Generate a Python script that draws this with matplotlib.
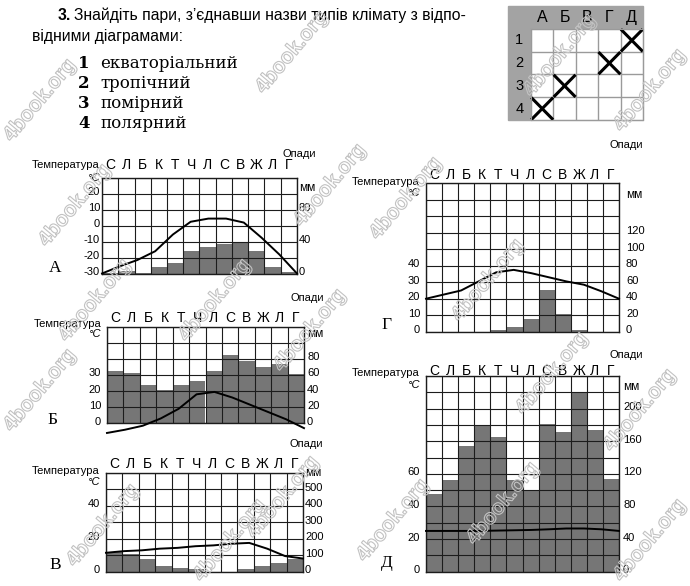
import numpy as np
import matplotlib
matplotlib.use('Agg')
import matplotlib.pyplot as plt
import matplotlib.patheffects as pe
from matplotlib.patches import Rectangle
from matplotlib.transforms import ScaledTranslation

plt.rcParams['font.family'] = ['Liberation Sans', 'DejaVu Sans']

# ── Data ──────────────────────────────────────────────────────────────────────
months = ['С', 'Л', 'Б', 'К', 'Т', 'Ч', 'Л', 'С', 'В', 'Ж', 'Л', 'Г']

temp_a = [-30, -25.5, -21.5, -16, -5.5, 2.5, 4.5, 4.5, 2, -7.5, -18, -30]
rain_a = [1, 3, 1, 8, 13, 28, 33, 37, 40, 28, 8, 2]

temp_b = [-6, -4, -1.5, 3, 9, 18, 19.5, 16, 11.5, 7, 2.5, -3]
rain_b = [65, 63, 48, 41, 48, 52, 65, 85, 77, 70, 74, 61]

temp_v = [11.5, 12.5, 13, 14, 14.5, 15.5, 16, 17, 17.5, 14, 9.5, 8]
rain_v = [120, 110, 75, 35, 25, 15, 0, 0, 15, 35, 55, 80]

temp_g = [20, 22.5, 25, 30.5, 36, 37.5, 35.5, 33, 30.5, 28.5, 24.5, 20]
rain_g = [0, 0, 0, 0, 2, 6, 16, 50, 22, 2, 0, 0]

temp_d = [25, 25, 25, 25, 25.2, 25.4, 25.6, 26, 26.5, 26.5, 26, 25]
rain_d = [95, 113, 154, 179, 165, 113, 99, 181, 171, 220, 174, 114]

climate_types = ['екваторіальний', 'тропічний', 'помірний', 'полярний']
answer_cols = ['А', 'Б', 'В', 'Г', 'Д']
answers = ['Д', 'Г', 'Б', 'А']          # answer for types 1..4

# ── Figure helpers (pixel layout of the scanned page) ─────────────────────────
W, H = 690, 586
fig = plt.figure(figsize=(6.9, 5.86), dpi=100)
fig.patch.set_facecolor('white')

BAR = '#767676'
GRID = '#1c1c1c'


def fx(x):
    return x / W


def fy(y):
    return 1 - y / H


def put(x, y, s, **kw):
    kw.setdefault('va', 'center')
    fig.text(fx(x), fy(y), s, **kw)


lift = ScaledTranslation(0, 0.025, fig.dpi_scale_trans)


def diagram(rect, t_lim, mm_top, temps, rain, t_ticks, mm_ticks, lpad, rpad,
            y_months, y_temp, y_degc, opady_xy, y_mm, letter_xy, letter):
    l, t, r, b = rect
    ax = fig.add_axes([fx(l), fy(b), (r - l) / W, (b - t) / H])
    ax.bar(np.arange(12), rain, width=1, align='edge', color=BAR, lw=0, zorder=1)
    ax.set_xlim(0, 12)
    ax.set_ylim(0, mm_top)
    for s in ax.spines.values():
        s.set_visible(False)

    tx = ax.twinx()
    tx.set_ylim(t_lim)
    tx.plot(np.linspace(0, 12, 12), temps, color='k', lw=1.4,
            clip_on=False, zorder=3)
    rows = np.arange(t_lim[0], t_lim[1] + 1, 10)
    tx.set_yticks(rows)
    tx.set_yticklabels([str(v) if v in t_ticks else '' for v in rows])
    tx.yaxis.tick_left()
    tx.xaxis.set_visible(True)
    tx.set_xticks(np.arange(13))
    tx.tick_params(length=0, labelbottom=False, labelsize=8, pad=lpad * 0.72)
    tx.grid(True, color=GRID, lw=0.8)
    for s in tx.spines.values():
        s.set_color(GRID)
        s.set_linewidth(1.0)

    # precipitation scale on the right (twinx moved it, put it back)
    ax.yaxis.tick_right()
    ax.set_yticks(mm_ticks)
    ax.set_yticklabels([str(v) for v in mm_ticks])
    ax.tick_params(length=0, labelbottom=False, labelsize=8, pad=rpad * 0.72)

    for lab in tx.get_yticklabels() + ax.get_yticklabels():
        lab.set_transform(lab.get_transform() + lift)

    cw = (r - l) / 12
    for i, m in enumerate(months):
        put(l + (i + 0.5) * cw, y_months, m, ha='center', fontsize=10)
    put(l - lpad, y_temp, 'Температура', ha='right', fontsize=8)
    put(l - lpad, y_degc, '°C', ha='right', fontsize=8, style='italic')
    put(opady_xy[0], opady_xy[1], 'Опади', ha='center', fontsize=8)
    put(r + rpad, y_mm, 'мм', ha='left', fontsize=8.5)
    put(letter_xy[0], letter_xy[1], letter, ha='center', fontsize=12.5,
        family='Liberation Serif')


# ── Header text ──────────────────────────────────────────────────────────────
put(58, 15, '3.', fontsize=11.3, fontweight='bold')
put(74, 15, 'Знайдіть пари, з’єднавши назви типів клімату з відпо-',
    fontsize=11.3)
put(32, 37, 'відними діаграмами:', fontsize=11.3)
for i, name in enumerate(climate_types):
    y = 63 + i * 20
    put(84, y, str(i + 1), ha='center', fontsize=12, fontweight='bold',
        family='DejaVu Serif')
    put(100, y, name, fontsize=12, family='DejaVu Serif')

# ── Answer grid ──────────────────────────────────────────────────────────────
fig.patches.append(Rectangle((fx(508), fy(120)), (643 - 508) / W, (120 - 6) / H,
                             transform=fig.transFigure, color='#a3a3a3',
                             zorder=-5))
ag = fig.add_axes([fx(531), fy(120), (643 - 531) / W, (120 - 29) / H])
ag.set_zorder(2)
ag.set_facecolor('white')
ag.set_xlim(0, 5)
ag.set_ylim(4, 0)
ag.set_xticks(np.arange(6))
ag.set_yticks(np.arange(5))
ag.grid(True, color='#9a9a9a', lw=1.0)
ag.tick_params(length=0, labelbottom=False, labelleft=False)
for s in ag.spines.values():
    s.set_color('#9a9a9a')
for c, name in enumerate(answer_cols):
    ag.text(c + 0.5, -0.5, name, ha='center', va='center', fontsize=11.5,
            clip_on=False)
for r in range(4):
    ag.text(-0.52, r + 0.5, str(r + 1), ha='center', va='center', fontsize=10.5,
            clip_on=False)
for r, letter in enumerate(answers):
    c = answer_cols.index(letter)
    ag.plot([c + 0.06, c + 0.94], [r + 0.94, r + 0.06], color='k', lw=2.2,
            clip_on=False)
    ag.plot([c + 0.06, c + 0.94], [r + 0.06, r + 0.94], color='k', lw=2.2,
            clip_on=False)

# ── Climate diagrams ─────────────────────────────────────────────────────────
diagram((102, 178, 297, 273.5), (-30, 30), 120, temp_a, rain_a,
        [-30, -20, -10, 0, 10, 20], [0, 40, 80], 2, 2,
        165, 165, 178, (299, 154), 188, (55, 268), 'А')
diagram((107, 326.7, 304, 423.3), (0, 60), 120, temp_b, rain_b,
        [0, 10, 20, 30], [0, 20, 40, 60, 80], 6, 3,
        318, 324, 334, (307, 298), 334, (52, 420), 'Б')
diagram((106, 473, 303, 571.7), (0, 60), 600, temp_v, rain_v,
        [0, 20, 40], [0, 100, 200, 300, 400, 500], 6, 2,
        464, 470.7, 481.7, (306, 444), 472.7, (55, 565), 'В')
diagram((426, 183.3, 619, 331.7), (0, 90), 180, temp_g, rain_g,
        [0, 10, 20, 30, 40], [0, 20, 40, 60, 80, 100, 120], 6, 7,
        175, 181.7, 193, (626, 145), 195, (387, 325), 'Г')
diagram((426, 376, 619, 571.7), (0, 120), 240, temp_d, rain_d,
        [0, 20, 40, 60], [0, 40, 80, 120, 160, 200], 6, 4,
        371, 373, 385, (626, 355), 386.7, (387, 563), 'Д')

# ── Site watermarks (outlined text on the scan) ──────────────────────────────
marks = [(292, 52), (560, 55), (650, 90), (40, 100), (75, 205), (215, 300),
         (330, 185), (406, 198), (488, 280), (95, 300), (310, 330), (40, 390),
         (103, 525), (283, 497), (552, 373), (503, 503), (393, 520), (640, 410),
         (650, 540), (230, 540)]
for x, y in marks:
    put(x, y, '4book.org', ha='center', rotation=50, fontsize=15,
        fontweight='bold', color='none', zorder=10,
        path_effects=[pe.Stroke(linewidth=0.8, foreground='#c2c2c2')])

fig.savefig('out.png', dpi=100)
